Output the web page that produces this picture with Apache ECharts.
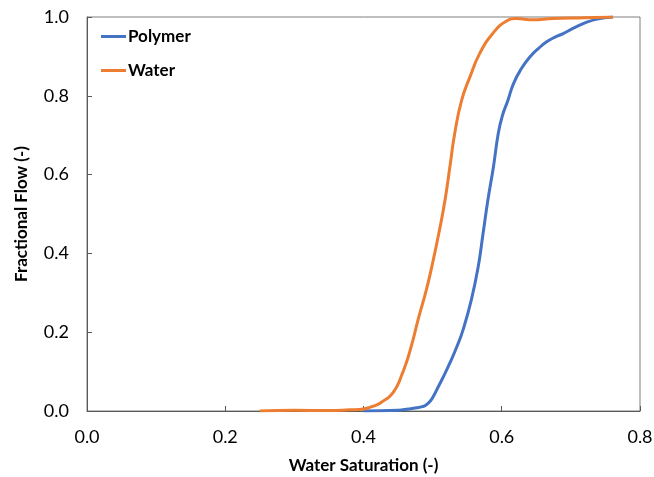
<!DOCTYPE html>
<html>
<head>
<meta charset="utf-8">
<script src="https://cdn.jsdelivr.net/npm/echarts@6/dist/echarts.min.js"></script>
<style>
  html, body { margin: 0; padding: 0; background: #fff; }
  #chart { width: 654px; height: 477px; }
</style>
</head>
<body>
<div id="chart"></div>
<script>
// Fractional flow curves vs. water saturation
const seriesNames = ['Polymer', 'Water'];

const polymerSw = [0.40, 0.45, 0.465, 0.477, 0.485, 0.491, 0.497, 0.502, 0.506, 0.515, 0.525, 0.535, 0.544, 0.556, 0.566, 0.573, 0.580, 0.588, 0.595, 0.601, 0.609, 0.617, 0.628, 0.641, 0.653, 0.665, 0.677, 0.689, 0.703, 0.723, 0.742, 0.761];
const polymerFw = [0.000, 0.002, 0.005, 0.008, 0.011, 0.016, 0.026, 0.040, 0.054, 0.085, 0.122, 0.163, 0.206, 0.282, 0.367, 0.451, 0.536, 0.620, 0.705, 0.750, 0.789, 0.831, 0.868, 0.899, 0.920, 0.937, 0.949, 0.958, 0.971, 0.987, 0.996, 1.000];

const waterSw = [0.25, 0.30, 0.35, 0.38, 0.40, 0.41, 0.42, 0.428, 0.436, 0.443, 0.450, 0.455, 0.460, 0.465, 0.472, 0.479, 0.491, 0.501, 0.510, 0.518, 0.525, 0.532, 0.542, 0.554, 0.568, 0.587, 0.607, 0.621, 0.645, 0.674, 0.72, 0.761];
const waterFw = [0.000, 0.002, 0.001, 0.003, 0.005, 0.010, 0.016, 0.025, 0.034, 0.047, 0.068, 0.090, 0.113, 0.139, 0.183, 0.232, 0.308, 0.384, 0.460, 0.536, 0.620, 0.705, 0.789, 0.848, 0.907, 0.958, 0.990, 0.996, 0.993, 0.996, 0.998, 1.000];

const xTicks = { min: 0, max: 0.8, interval: 0.2 };
const yTicks = { min: 0, max: 1.0, interval: 0.2 };

const pairs = (xs, ys) => xs.map((x, i) => [x, ys[i]]);

const chart = echarts.init(document.getElementById('chart'), null, { renderer: 'canvas' });
const labelFont = 'Lato, "Open Sans", sans-serif';

chart.setOption({
  animation: false,
  backgroundColor: '#ffffff',
  grid: {
    left: 87, right: 14, top: 17, bottom: 66,
    outerBoundsMode: 'none',
    show: true, borderColor: '#7f7f7f', borderWidth: 1
  },
  legend: {
    data: seriesNames,
    orient: 'vertical',
    left: 96, top: 23,
    itemGap: 17,
    itemWidth: 25, itemHeight: 3,
    icon: 'rect',
    textStyle: { fontFamily: labelFont, fontWeight: 'bold', fontSize: 17, color: '#000', padding: [0, 0, 0, -3] }
  },
  xAxis: {
    type: 'value',
    min: xTicks.min, max: xTicks.max, interval: xTicks.interval,
    name: 'Water Saturation (-)',
    nameLocation: 'middle', nameGap: 46,
    nameTextStyle: { fontFamily: labelFont, fontWeight: 'bold', fontSize: 17, color: '#000' },
    axisLine: { show: true, lineStyle: { color: '#595959', width: 1 } },
    axisTick: { show: true, inside: true, length: 5, lineStyle: { color: '#595959' } },
    axisLabel: { fontFamily: labelFont, fontSize: 18, color: '#000', margin: 17, formatter: v => v.toFixed(1) },
    splitLine: { show: false }
  },
  yAxis: {
    type: 'value',
    min: yTicks.min, max: yTicks.max, interval: yTicks.interval,
    name: 'Fractional Flow (-)',
    nameLocation: 'middle', nameGap: 57,
    nameTextStyle: { fontFamily: labelFont, fontWeight: 'bold', fontSize: 17, color: '#000' },
    axisLine: { show: true, lineStyle: { color: '#595959', width: 1 } },
    axisTick: { show: true, inside: true, length: 5, lineStyle: { color: '#595959' } },
    axisLabel: { fontFamily: labelFont, fontSize: 18, color: '#000', margin: 18, formatter: v => v.toFixed(1) },
    splitLine: { show: false }
  },
  series: [
    {
      name: seriesNames[0], type: 'line',
      data: pairs(polymerSw, polymerFw),
      smooth: 0.5, showSymbol: false,
      lineStyle: { color: '#4472C4', width: 3 }, itemStyle: { color: '#4472C4' },
      z: 2
    },
    {
      name: seriesNames[1], type: 'line',
      data: pairs(waterSw, waterFw),
      smooth: 0.5, showSymbol: false,
      lineStyle: { color: '#ED7D31', width: 3 }, itemStyle: { color: '#ED7D31' },
      z: 3
    }
  ]
});
</script>
</body>
</html>
